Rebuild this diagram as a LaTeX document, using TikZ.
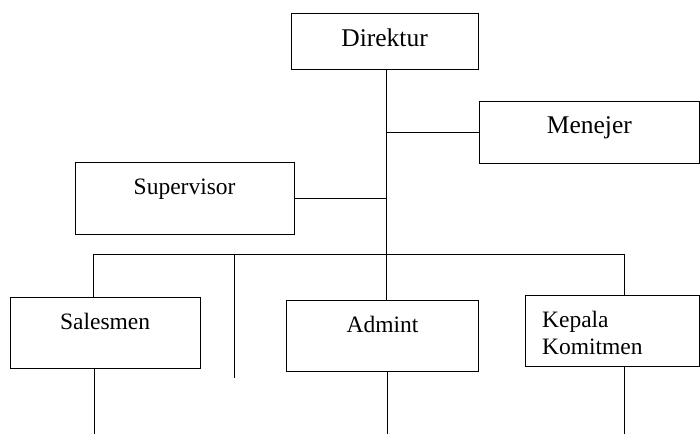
\documentclass[tikz,border=0pt]{standalone}
\usepackage{fontspec}
\setmainfont{Liberation Serif}
\begin{document}
\begin{tikzpicture}[x=1pt,y=-1pt,line width=1pt,
  box/.style={draw,line width=1.2pt,anchor=north west,inner xsep=0pt,inner ysep=0pt,
    font=\fontsize{23.5}{27}\selectfont,text height=32pt},
  big/.style={font=\fontsize{25.5}{28}\selectfont},
  conn/.style={draw,line width=1pt}]
\useasboundingbox (0,0) rectangle (700,434);
% boxes: text height = baseline from top, text depth = rest
\node[box,big,minimum width=187pt,text height=33.5pt,text depth=22.5pt] (dir) at (290.5,12.5) {Direktur};
\node[box,big,minimum width=219.5pt,text height=32.5pt,text depth=30pt] (men) at (479,100.5) {Menejer};
\node[box,minimum width=219pt,text depth=40pt] (sup) at (74.5,162) {Supervisor};
\node[box,minimum width=190pt,text depth=39pt] (sal) at (9.5,297) {Salesmen};
\node[box,minimum width=192pt,text depth=39pt] (adm) at (286,300) {Admint};
\node[box,minimum width=174pt,text height=32pt,text depth=39pt] (kep) at (524.5,295)
  {\begin{tabular}[t]{@{\hspace{17pt}}p{157pt}@{}}Kepala\\Komitmen\end{tabular}};
% coordinates
\coordinate (top) at (386,68.5);
\coordinate (junc) at (386,254);
\coordinate (busL) at (93,254);
\coordinate (busR) at (624,254);
\coordinate (free) at (234,254);
\coordinate (freeEnd) at (234,378);
\coordinate (salEnd) at (94,434);
\coordinate (admEnd) at (387,434);
\coordinate (kepEnd) at (624,434);
% connectors
\draw[conn] (top) -- (junc);
\draw[conn] (men.west) -- (men.west -| top);
\draw[conn] (sup.east) -- (sup.east -| top);
\draw[conn] (busL) -- (busR);
\draw[conn] (busL) -- (busL |- sal.north);
\draw[conn] (free) -- (freeEnd);
\draw[conn] (junc) -- (junc |- adm.north);
\draw[conn] (busR) -- (busR |- kep.north);
\draw[conn] (salEnd |- sal.south) -- (salEnd);
\draw[conn] (admEnd |- adm.south) -- (admEnd);
\draw[conn] (kepEnd |- kep.south) -- (kepEnd);
\end{tikzpicture}
\end{document}
